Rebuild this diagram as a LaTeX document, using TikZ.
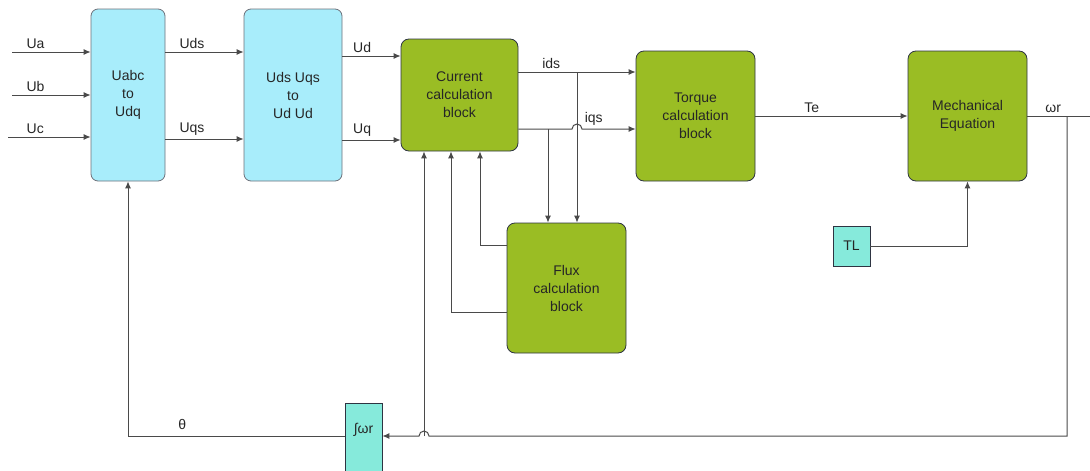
\documentclass[tikz,border=0pt]{standalone}
\usepackage{fontspec}
\setmainfont{Liberation Sans}
\usetikzlibrary{arrows.meta}

\definecolor{convblue}{HTML}{A8EDFB}
\definecolor{calcgreen}{HTML}{9ABD24}
\definecolor{inpcyan}{HTML}{86EADB}
\definecolor{boxedge}{HTML}{2E3442}
\definecolor{wirecol}{HTML}{4A4A4A}
\definecolor{txt}{HTML}{262626}

\begin{document}
\begin{tikzpicture}[
        x=1pt, y=-1pt,
        font=\fontsize{14}{18}\selectfont,
        every node/.style={text=txt},
        conv/.style={rectangle, draw=boxedge!70, fill=convblue, rounded corners=7pt, align=center, inner sep=0pt, line width=0.8pt},
        calc/.style={rectangle, draw=boxedge, fill=calcgreen, rounded corners=8pt, align=center, inner sep=0pt, line width=0.8pt},
        srcbox/.style={rectangle, draw=boxedge, fill=inpcyan, inner sep=0pt, line width=0.8pt},
        wire/.style={wirecol, line width=1pt},
        sig/.style={wire, -{Latex[length=7pt,width=6pt]}}
    ]
        \useasboundingbox (0,0) rectangle (1090,471);

        % Converters
        \node[conv, minimum width=74pt, minimum height=172pt] (uabc) at (128,95) {Uabc\\to\\Udq};
        \node[conv, minimum width=98pt, minimum height=172pt] (udq) at (293,95) {Uds Uqs\\to\\Ud Ud};

        % Calculation blocks
        \node[calc, minimum width=117pt, minimum height=112pt] (current) at (459.5,95) {Current\\calculation\\block};
        \node[calc, minimum width=119pt, minimum height=130pt] (torque) at (695.5,116) {Torque\\calculation\\block};
        \node[calc, minimum width=119pt, minimum height=130pt] (mech) at (967.5,116) {Mechanical\\Equation};
        \node[calc, minimum width=119pt, minimum height=130pt] (flux) at (566.5,288) {Flux\\calculation\\block};

        % Load torque and integrator
        \node[srcbox, minimum width=37pt, minimum height=40pt] (tl) at (851.5,246) {TL};
        \node[srcbox, minimum width=37pt, minimum height=75pt] (integ) at (363.5,440.5) {};
        \node[anchor=north] (integtxt) at ([yshift=-17pt]integ.north) {∫ωr};

        % Free ends and branch points
        \coordinate (ua) at (12,52);
        \coordinate (ub) at (12,95);
        \coordinate (uc) at (8,137);
        \coordinate (idsjoin) at (577,72);
        \coordinate (iqsjoin) at (548,129);
        \coordinate (wrtap) at (1067,116);
        \coordinate (wrout) at (1097,116);
        \coordinate (wrfb) at (424,436);

        % Phase voltages
        \draw[sig] (ua) -- node[pos=0.3, above] {Ua} (ua -| uabc.west);
        \draw[sig] (ub) -- node[pos=0.3, above] {Ub} (ub -| uabc.west);
        \draw[sig] (uc) -- node[pos=0.33, above] {Uc} (uc -| uabc.west);

        % dq voltages
        \draw[sig] (uabc.east |- 0,52) -- node[pos=0.34, above] {Uds} (udq.west |- 0,52);
        \draw[sig] (uabc.east |- 0,139) -- node[pos=0.34, above] {Uqs} (udq.west |- 0,139);
        \draw[sig] (udq.east |- 0,56) -- node[pos=0.34, above] {Ud} (current.west |- 0,56);
        \draw[sig] (udq.east |- 0,140) -- node[pos=0.34, above] {Uq} (current.west |- 0,140);

        % Currents
        \draw[sig] (current.east |- 0,72) -- node[pos=0.28, above] {ids} (torque.west |- 0,72);
        \draw[sig] (current.east |- 0,129) -- (572,129) arc[start angle=180, end angle=360, radius=5]
            -- node[pos=0.22, above] {iqs} (torque.west |- 0,129);
        \draw[sig] (idsjoin) -- (idsjoin |- flux.north);
        \draw[sig] (iqsjoin) -- (iqsjoin |- flux.north);

        % Flux back to current block
        \draw[sig] (flux.west |- 0,245) -| (current.south -| 480,0);
        \draw[sig] (flux.west |- 0,312) -| (current.south -| 451,0);

        % Torque and speed
        \draw[sig] (torque.east) -- node[pos=0.37, above] {Te} (mech.west);
        \draw[sig] (tl.east) -| (mech.south);
        \draw[sig] (mech.east) -- node[pos=0.37, above] {ωr} (wrout);

        % Speed feedback
        \draw[sig] (wrtap) |- (429,436) arc[start angle=0, end angle=-180, radius=5] -- (integ.east |- 0,436);
        \draw[sig] (wrfb) -- (current.south -| wrfb);
        \draw[sig] (integ.west |- 0,436) -| node[pos=0.375, above=3pt] {θ} (uabc.south);
    \end{tikzpicture}
\end{document}
